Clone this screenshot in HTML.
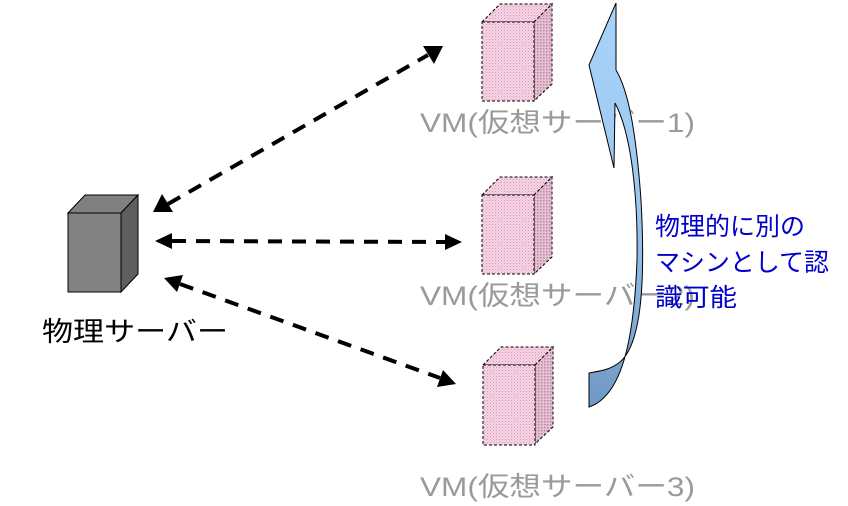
<!DOCTYPE html>
<html><head><meta charset="utf-8"><style>
body{margin:0;background:#fff;}
svg{display:block}
text{font-family:"Liberation Sans","Noto Sans CJK JP",sans-serif;}
</style></head><body>
<svg width="848" height="506" viewBox="0 0 848 506">
<defs>
<pattern id="h" width="3" height="3" patternUnits="userSpaceOnUse">
<rect width="3" height="3" fill="#f6d4e6"/><rect width="1" height="1" fill="#d89ab8"/><rect x="1.5" y="1.5" width="1" height="1" fill="#e3aac8"/>
</pattern>
<pattern id="h2" width="3" height="3" patternUnits="userSpaceOnUse">
<rect width="3" height="3" fill="#e8c0d4"/><rect width="1.5" height="1.5" fill="#b888a0"/>
</pattern>
<linearGradient id="g" x1="0" y1="0" x2="0" y2="1"><stop offset="0" stop-color="#a8d4fb"/><stop offset="0.5" stop-color="#9cc6ee"/><stop offset="1" stop-color="#6f98c4"/></linearGradient>
</defs>
<!-- physical server -->
<polygon points="68,213 85,195 138,195 121,213" fill="#808080" stroke="#000"/>
<polygon points="121,213 138,195 138,274 121,292" fill="#5e5e5e" stroke="#000"/>
<rect x="68" y="213" width="53" height="79" fill="#828282" stroke="#000"/>
<text x="42" y="341" font-size="27" fill="#000" textLength="186" lengthAdjust="spacingAndGlyphs">物理サーバー</text>
<!-- VMs -->
<g stroke="#000" stroke-dasharray="3,2" stroke-width="1">
<g>
<polygon points="482,22 500,4 552,4 534,22" fill="url(#h)"/>
<polygon points="534,22 552,4 552,84 534,101" fill="url(#h2)"/>
<rect x="482" y="22" width="52" height="79" fill="url(#h)"/>
</g>
<g transform="translate(0,173)">
<polygon points="482,22 500,4 552,4 534,22" fill="url(#h)"/>
<polygon points="534,22 552,4 552,84 534,101" fill="url(#h2)"/>
<rect x="482" y="22" width="52" height="79" fill="url(#h)"/>
</g>
<g transform="translate(1,343)">
<polygon points="482,22 500,4 552,4 534,22" fill="url(#h)"/>
<polygon points="534,22 552,4 552,84 534,101" fill="url(#h2)"/>
<rect x="482" y="22" width="52" height="80" fill="url(#h)"/>
</g>
</g>
<g font-size="27" fill="#9a9a9a">
<text x="420" y="132" textLength="275" lengthAdjust="spacingAndGlyphs">VM(仮想サーバー1)</text>
<text x="420" y="305" textLength="275" lengthAdjust="spacingAndGlyphs">VM(仮想サーバー2)</text>
<text x="420" y="496" textLength="275" lengthAdjust="spacingAndGlyphs">VM(仮想サーバー3)</text>
</g>
<!-- arrows -->
<g stroke="#000" stroke-width="4" stroke-dasharray="14,10" fill="none">
<line x1="168" y1="204" x2="428" y2="55"/>
<line x1="172" y1="241" x2="446" y2="242"/>
<line x1="180" y1="284" x2="440" y2="378"/>
</g>
<g fill="#000">
<polygon points="443,46 423,46 434,64"/>
<polygon points="153,212 173,212 162,194"/>
<polygon points="155,241 172,233 172,249"/>
<polygon points="462,242 445,234 445,250"/>
<polygon points="164,278 183,275 177,292"/>
<polygon points="456,384 437,387 443,370"/>
</g>
<!-- curved arrow -->
<path d="M616,3 L616,70 C628,90 636,130 641,200 C646,290 640,345 620,362 C610,370 600,371 589,373 L589,407 C622,396 634,340 637,260 C638,200 632,135 615,103 L614,168 L589,65 Z" fill="url(#g)" stroke="#000" stroke-width="1"/>
<g font-size="25" fill="#0000cc">
<text x="655" y="235" textLength="150" lengthAdjust="spacingAndGlyphs">物理的に別の</text>
<text x="655" y="271" textLength="174" lengthAdjust="spacingAndGlyphs">マシンとして認</text>
<text x="655" y="306" textLength="82" lengthAdjust="spacingAndGlyphs">識可能</text>
</g>
</svg>
</body></html>
